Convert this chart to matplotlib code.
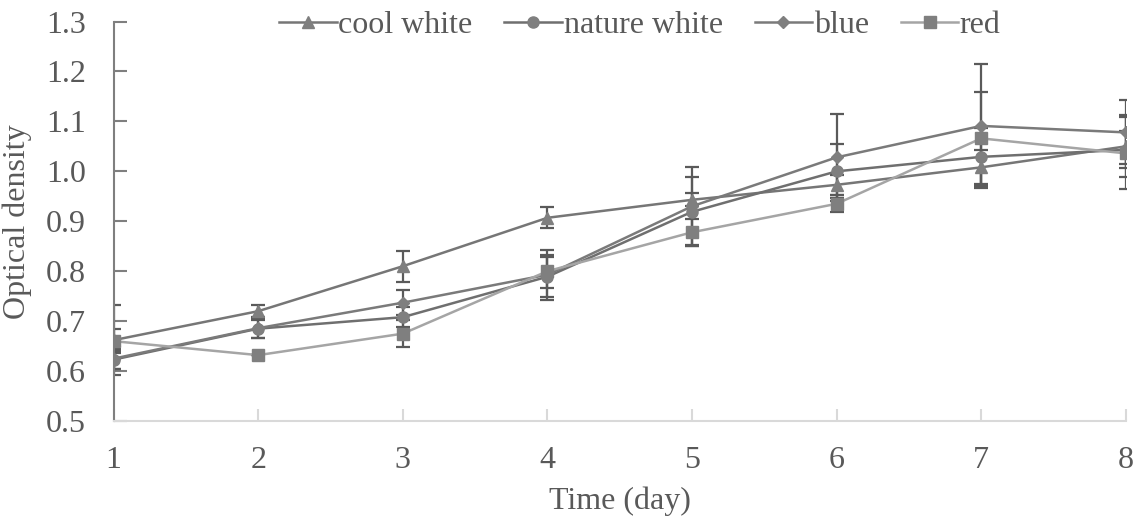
import numpy as np
import matplotlib.pyplot as plt

days = [1, 2, 3, 4, 5, 6, 7, 8]

cool_white = [0.662, 0.720, 0.810, 0.907, 0.943, 0.973, 1.008, 1.050]
cool_white_err = [0.070, 0.012, 0.031, 0.021, 0.013, 0.020, 0.035, 0.062]
nature_white = [0.623, 0.685, 0.708, 0.789, 0.919, 1.000, 1.029, 1.043]
nature_white_err = [0.018, 0.018, 0.020, 0.040, 0.069, 0.054, 0.058, 0.037]
blue = [0.625, 0.686, 0.737, 0.793, 0.930, 1.028, 1.091, 1.078]
blue_err = [0.020, 0.020, 0.025, 0.050, 0.078, 0.087, 0.124, 0.064]
red = [0.660, 0.632, 0.675, 0.800, 0.878, 0.935, 1.066, 1.036]
red_err = [0.024, 0.0, 0.027, 0.033, 0.027, 0.017, 0.092, 0.072]

series = [
    ("cool white", cool_white, cool_white_err, "^", "#767676"),
    ("nature white", nature_white, nature_white_err, "o", "#6f6f6f"),
    ("blue", blue, blue_err, "D", "#7a7a7a"),
    ("red", red, red_err, "s", "#a5a5a5"),
]
marker_size = {"^": 8, "o": 8, "D": 6, "s": 8}

plt.rcParams['font.family'] = ['Liberation Serif', 'DejaVu Serif']
txt = "#595959"

fig = plt.figure(figsize=(11.36, 5.25), dpi=100)
ax = fig.add_axes([0.100, 0.198, 0.891, 0.761])

for name, vals, err, mk, col in series:
    ax.errorbar(days, vals, yerr=err, fmt="none", ecolor="#5a5a5a",
                elinewidth=1.6, capsize=5, capthick=1.6, zorder=2)
for name, vals, err, mk, col in series:
    ax.plot(days, vals, color=col, lw=1.8, marker=mk, ms=marker_size[mk],
            mfc="#7f7f7f", mec="#7f7f7f", label=name, zorder=3)

ax.set_xlim(1, 8)
ax.set_ylim(0.5, 1.3)
ax.set_xticks(days)
ax.set_yticks(np.arange(0.5, 1.31, 0.1))
ax.set_yticklabels([f"{v:.1f}" for v in np.arange(0.5, 1.31, 0.1)])

for s in ["top", "right"]:
    ax.spines[s].set_visible(False)
ax.spines["left"].set_color("#7f7f7f")
ax.spines["left"].set_linewidth(1.5)
ax.spines["bottom"].set_color("#d9d9d9")
ax.spines["bottom"].set_linewidth(1.5)
ax.tick_params(axis="y", direction="in", length=9, width=1.5, color="#7f7f7f",
               labelsize=23, labelcolor=txt, pad=20)
ax.tick_params(axis="x", direction="in", length=9, width=1.5, color="#d9d9d9",
               labelsize=23, labelcolor=txt, pad=18)

ax.set_xlabel("Time (day)", fontsize=23, color=txt, labelpad=8)
ax.set_ylabel("Optical density", fontsize=23, color=txt, labelpad=10)

leg = ax.legend(loc="upper center", bbox_to_anchor=(0.52, 1.1), ncol=4,
                frameon=False, fontsize=23, handlelength=1.8, handletextpad=0.05,
                columnspacing=1.0, labelcolor=txt)

fig.savefig("out.png", dpi=100)
